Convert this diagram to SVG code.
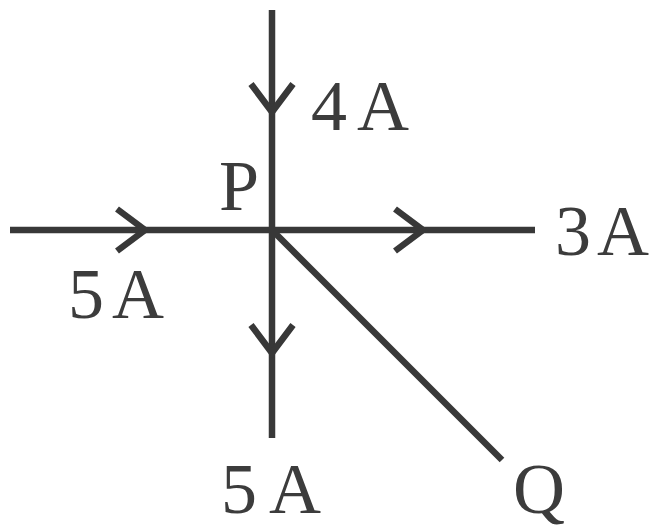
<svg xmlns="http://www.w3.org/2000/svg" xmlns:xlink="http://www.w3.org/1999/xlink" width="656" height="532" viewBox="0 0 656 532">
  <style>
    .wire { stroke: #383838; stroke-width: 6.5; fill: none; stroke-linecap: butt; }
    .chev { stroke: #383838; stroke-width: 6.5; fill: none; stroke-linejoin: miter; }
    .lbl { font-family: "Liberation Serif", "Times New Roman", serif; font-size: 72px; fill: #3c3c3c; }
  </style>
  <defs>
    <path id="chevron" class="chev" d="M-28,-21 L0,0 L-28,21"/>
  </defs>
  <rect width="656" height="532" fill="#ffffff"/>
  <g id="connectors">
    <line class="wire" x1="272" y1="10" x2="272" y2="438"/>
    <line class="wire" x1="10" y1="230" x2="535" y2="230"/>
    <line class="wire" x1="272" y1="230" x2="502" y2="460"/>
    <use xlink:href="#chevron" transform="translate(272,112) rotate(90)"/>
    <use xlink:href="#chevron" transform="translate(145,230)"/>
    <use xlink:href="#chevron" transform="translate(423,230)"/>
    <use xlink:href="#chevron" transform="translate(272,353) rotate(90)"/>
  </g>
  <g id="node-P">
    <text class="lbl" x="219" y="210">P</text>
  </g>
  <g id="node-Q">
    <text class="lbl" x="513" y="513">Q</text>
  </g>
  <g id="label-top">
    <text class="lbl" x="311" y="130" word-spacing="-4">4 A</text>
  </g>
  <g id="label-right">
    <text class="lbl" x="555" y="255" word-spacing="-8">3 A</text>
  </g>
  <g id="label-left">
    <text class="lbl" x="68" y="318" word-spacing="-6">5 A</text>
  </g>
  <g id="label-bottom">
    <text class="lbl" x="221" y="513" letter-spacing="12">5A</text>
  </g>
</svg>
